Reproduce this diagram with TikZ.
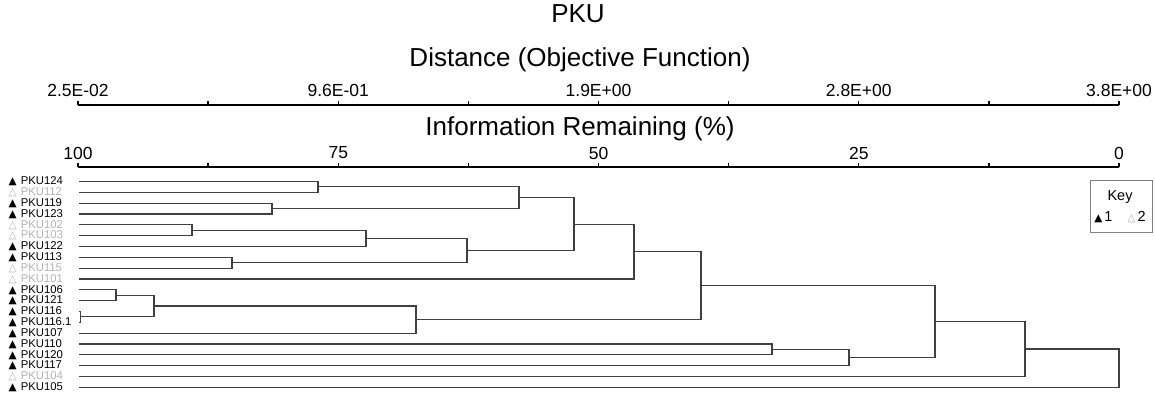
\documentclass[tikz,border=0pt]{standalone}
\usepackage{fontspec}
\setmainfont{Liberation Sans}
\newfontfamily\symfont{DejaVu Sans}
\definecolor{lgray}{HTML}{B4B4B4}
\definecolor{lnc}{HTML}{404040}
\newcommand\blk{{\symfont\fontsize{10.5}{10.5}\selectfont ▲}\hspace{4pt}}
\newcommand\wht{{\symfont\fontsize{10.5}{10.5}\selectfont △}\hspace{4pt}}
\def\ry#1{181.5+10.83*(#1)}
\begin{document}
\begin{tikzpicture}[x=1pt,y=-1pt,
  br/.style={draw=lnc,line width=1.1pt},
  ax/.style={draw=black,line width=1.6pt},
  lbl/.style={anchor=west,inner sep=0pt,font=\fontsize{11.3}{11.3}\selectfont},
  big/.style={inner sep=0pt,font=\fontsize{26}{26}\selectfont},
  tk/.style={inner sep=0pt,font=\fontsize{17.5}{17.5}\selectfont}]
\useasboundingbox (0,0) rectangle (1155,396);
\fill[white] (0,0) rectangle (1155,396);
% titles
\node[big] (title) at (578,14) {PKU};
\node[big] (h1) at (580,60) {Distance (Objective Function)};
\node[big] (h2) at (580,129) {Information Remaining (\%)};
% axes
\coordinate (a1s) at (78,105); \coordinate (a1e) at (1119,105);
\coordinate (a2s) at (78,167); \coordinate (a2e) at (1119,167);
\draw[ax] (a1s) -- (a1e);
\draw[ax] (a2s) -- (a2e);
\foreach \k in {0,...,8}{
  \draw[ax,line width=1.3pt] ({78+130.125*\k},105) -- ({78+130.125*\k},100.5);
  \draw[ax,line width=1.3pt] ({78+130.125*\k},167) -- ({78+130.125*\k},162.5);
}
\foreach \k/\t in {0/2.5E-02,2/9.6E-01,4/1.9E+00,6/2.8E+00,8/3.8E+00}
  \node[tk] (d\k) at ({78+130.125*\k},90) {\t};
\foreach \k/\t in {0/100,2/75,4/50,6/25,8/0}
  \node[tk] (p\k) at ({78+130.125*\k},153) {\t};
% leaves
\foreach \i/\n/\g in {0/PKU124/1,1/PKU112/2,2/PKU119/1,3/PKU123/1,4/PKU102/2,5/PKU103/2,
  6/PKU122/1,7/PKU113/1,8/PKU115/2,9/PKU101/2,10/PKU106/1,11/PKU121/1,12/PKU116/1,
  13/PKU116.1/1,14/PKU107/1,15/PKU110/1,16/PKU120/1,17/PKU117/1,18/PKU104/2,19/PKU105/1}{
  \coordinate (l\i) at (79,{\ry{\i}});
  \ifnum\g=1
    \node[lbl] (t\i) at (8.5,{\ry{\i}}) {\blk\n};
  \else
    \node[lbl,text=lgray] (t\i) at (8.5,{\ry{\i}}) {\wht\n};
  \fi
}
% merges
\coordinate (A) at (318,{\ry{0.5}});
\coordinate (B) at (272,{\ry{2.5}});
\coordinate (C) at (192,{\ry{4.5}});
\coordinate (D) at (366,{\ry{5.25}});
\coordinate (E) at (232,{\ry{7.5}});
\coordinate (F) at (467,{\ry{6.375}});
\coordinate (G) at (519,{\ry{1.5}});
\coordinate (H) at (574,{\ry{3.9375}});
\coordinate (I) at (634,{\ry{6.46875}});
\coordinate (J) at (116,{\ry{10.5}});
\coordinate (K) at (80.5,{\ry{12.5}});
\coordinate (L) at (154,{\ry{11.5}});
\coordinate (M) at (416,{\ry{12.75}});
\coordinate (N) at (701,{\ry{9.609375}});
\coordinate (O) at (772,{\ry{15.5}});
\coordinate (P) at (849,{\ry{16.25}});
\coordinate (Q) at (935,{\ry{12.9296875}});
\coordinate (R) at (1025,{\ry{15.46484375}});
\coordinate (S) at (1119,{\ry{17.232421875}});
\foreach \a/\b in {l0/A,l1/A,l2/B,l3/B,l4/C,l5/C,C/D,l6/D,l7/E,l8/E,D/F,E/F,
  A/G,B/G,G/H,F/H,H/I,l9/I,l10/J,l11/J,l12/K,l13/K,J/L,K/L,L/M,l14/M,I/N,M/N,
  l15/O,l16/O,O/P,l17/P,N/Q,P/Q,Q/R,l18/R,R/S,l19/S}
  \draw[br] (\a) -| (\b);
% key
\node[draw=black!50,line width=0.9pt,minimum width=62pt,minimum height=51.5pt,anchor=north west,inner sep=0pt] (key) at (1089.5,180) {};
\node[inner sep=0pt,font=\fontsize{14.5}{14.5}\selectfont] (keyt) at (1120,197.5) {Key};
\node[inner sep=0pt,font=\fontsize{14.5}{14.5}\selectfont] (keyv) at (1120,217.5) {{\symfont\fontsize{10.5}{10.5}\selectfont ▲}\hspace{2pt}1\hspace{15pt}{\color{lgray}\symfont\fontsize{10.5}{10.5}\selectfont △}\hspace{2pt}2};
\end{tikzpicture}
\end{document}
